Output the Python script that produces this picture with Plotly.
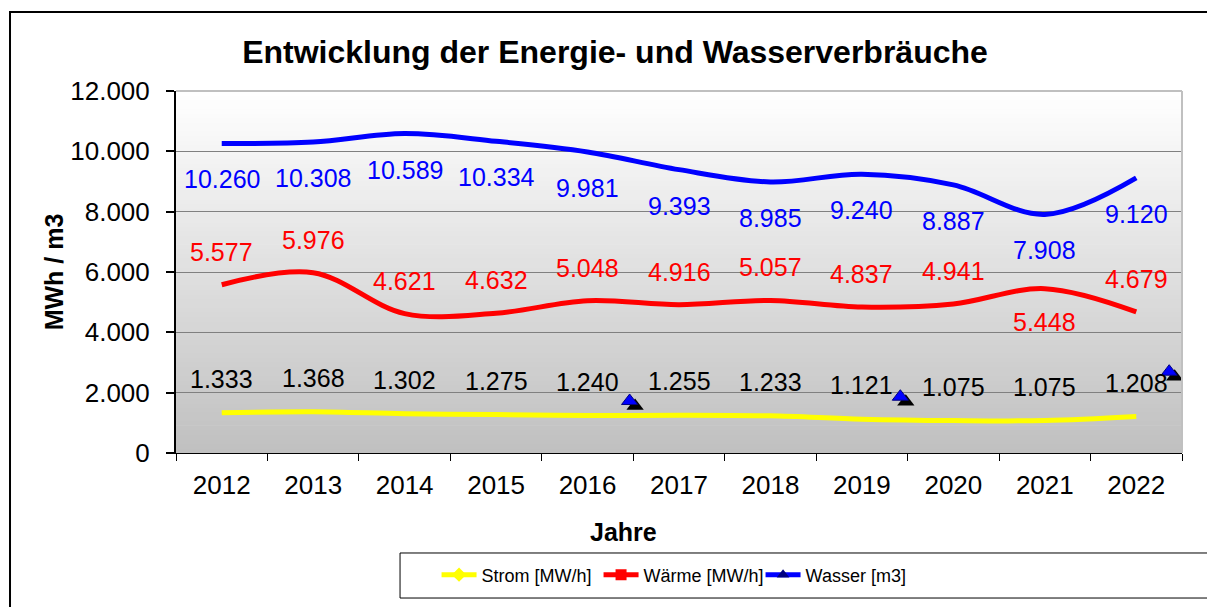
import plotly.graph_objects as go

# ---------------- data ----------------
years = [2012, 2013, 2014, 2015, 2016, 2017, 2018, 2019, 2020, 2021, 2022]
strom = [1333, 1368, 1302, 1275, 1240, 1255, 1233, 1121, 1075, 1075, 1208]
waerme = [5577, 5976, 4621, 4632, 5048, 4916, 5057, 4837, 4941, 5448, 4679]
wasser = [10260, 10308, 10589, 10334, 9981, 9393, 8985, 9240, 8887, 7908, 9120]
stray_x = [2016.46, 2019.42, 2022.36]
stray_y = [1724, 1866, 2695]
y_ticks = [0, 2000, 4000, 6000, 8000, 10000, 12000]

names = ["Strom [MW/h]", "Wärme [MW/h]", "Wasser [m3]"]

# ---------------- style ----------------
FONT = "Liberation Sans, Arial, sans-serif"
colors = ["#ffff00", "#ff0000", "#0000ff"]
legend_symbols = ["diamond", "square", "triangle-up"]
label_colors = ["#000000", "#ff0000", "#0000ff"]
waerme_label_dir = [1, 1, 1, 1, 1, 1, 1, 1, 1, -1, 1]

W, H = 1207, 599  # page body has 8px margin


def fmt(v):
    return f"{v:,}".replace(",", ".")


fig = go.Figure()

series = [strom, waerme, wasser]
for name, vals, col in zip(names, series, colors):
    fig.add_trace(go.Scatter(
        x=years, y=vals, mode="lines", name=name,
        line=dict(color=col, width=5, shape="spline", smoothing=1),
        showlegend=False, hoverinfo="skip"))

# stray triangle markers (with shadow)
fig.add_trace(go.Scatter(
    x=[v + 0.06 for v in stray_x], y=[v - 170 for v in stray_y], mode="markers",
    marker=dict(symbol="triangle-up", size=15, color="black"),
    showlegend=False, hoverinfo="skip"))
fig.add_trace(go.Scatter(
    x=stray_x, y=stray_y, mode="markers",
    marker=dict(symbol="triangle-up", size=14, color="#0000ff",
                line=dict(color="#000080", width=1)),
    showlegend=False, hoverinfo="skip"))

# legend-only traces
for name, col, sym in zip(names, colors, legend_symbols):
    fig.add_trace(go.Scatter(
        x=[None], y=[None], mode="lines+markers", name=name,
        line=dict(color=col, width=5),
        marker=dict(symbol=sym, size=11, color=col if sym != "triangle-up" else "#000080",
                    line=dict(width=0)),
        showlegend=True))

# data labels
annotations = []
for i, (vals, lc) in enumerate(zip(series, label_colors)):
    for j, (x, v) in enumerate(zip(years, vals)):
        if i == 0:
            ys = 34
        elif i == 1:
            ys = 33 * waerme_label_dir[j]
        else:
            ys = -36
        annotations.append(dict(
            x=x, y=v, xref="x", yref="y", text=fmt(v), showarrow=False,
            yshift=ys, font=dict(family=FONT, size=25, color=lc)))

annotations.append(dict(
    x=0.445, y=-0.218, xref="paper", yref="paper", text="<b>Jahre</b>",
    showarrow=False, font=dict(family=FONT, size=25, color="black"),
    xanchor="center", yanchor="middle"))

# gradient background bands
shapes = []
N = 80
for k in range(N):
    t = k / (N - 1)
    c = int(round(192 + (255 - 192) * t))
    shapes.append(dict(
        type="rect", xref="paper", yref="paper", x0=0, x1=1,
        y0=k / N, y1=(k + 1) / N + 0.002, line=dict(width=0),
        fillcolor=f"rgb({c},{c},{c})", layer="below"))

# plot area border (top / right)
shapes.append(dict(type="line", xref="paper", yref="paper", x0=0, x1=1, y0=1, y1=1,
                   line=dict(color="#c0c0c0", width=2), layer="above"))
shapes.append(dict(type="line", xref="paper", yref="paper", x0=1, x1=1, y0=0, y1=1,
                   line=dict(color="#c0c0c0", width=2), layer="above"))
# outer chart frame
shapes.append(dict(type="rect", xref="paper", yref="paper", x0=-0.165, x1=1.3,
                   y0=-0.7, y1=1.218, line=dict(color="black", width=2),
                   fillcolor="rgba(0,0,0,0)", layer="above"))
# legend frame
shapes.append(dict(type="rect", xref="paper", yref="paper", x0=0.2227, x1=1.031,
                   y0=-0.4006, y1=-0.2762, line=dict(color="black", width=1),
                   fillcolor="rgba(0,0,0,0)", layer="above"))

fig.update_layout(
    width=W, height=H, autosize=False,
    margin=dict(l=168, r=33, t=83, b=154),
    paper_bgcolor="white", plot_bgcolor="white",
    separators=",.",
    font=dict(family=FONT, color="black"),
    title=dict(text="Entwicklung der Energie- und Wasserverbräuche",
               font=dict(family=FONT, size=32, color="black", weight="bold"),
               x=(615 - 8) / W, xref="container", xanchor="center",
               y=1 - (52 - 8) / H, yref="container", yanchor="middle"),
    xaxis=dict(range=[2011.5, 2022.5], tickmode="array", tickvals=years,
               ticktext=[str(y) for y in years], ticks="", ticklabelstandoff=9,
               tickfont=dict(family=FONT, size=26, color="black"),
               showline=True, linecolor="black", linewidth=1,
               showgrid=False, zeroline=False,
               minor=dict(tickmode="array", tickvals=[2011.5 + i for i in range(12)],
                          ticks="outside", ticklen=7, tickwidth=1, tickcolor="black",
                          showgrid=False)),
    yaxis=dict(range=[0, 12000], tickmode="array", tickvals=y_ticks, tickformat=",",
               ticks="outside", ticklen=8, tickwidth=1.5, tickcolor="black",
               ticklabelstandoff=11,
               tickfont=dict(family=FONT, size=26, color="black"),
               showline=True, linecolor="black", linewidth=2,
               showgrid=True, gridcolor="#808080", gridwidth=1, zeroline=False,
               title=dict(text="MWh / m3", standoff=0,
                          font=dict(family=FONT, size=25, color="black", weight="bold"))),
    legend=dict(orientation="h", x=0.259, xanchor="left", y=-0.337, yanchor="middle",
                font=dict(family=FONT, size=18, color="black"),
                bgcolor="rgba(0,0,0,0)", borderwidth=0, itemwidth=35,
                entrywidth=112, entrywidthmode="pixels", traceorder="normal"),
    annotations=annotations,
    shapes=shapes,
)

fig.write_html("out.html")
